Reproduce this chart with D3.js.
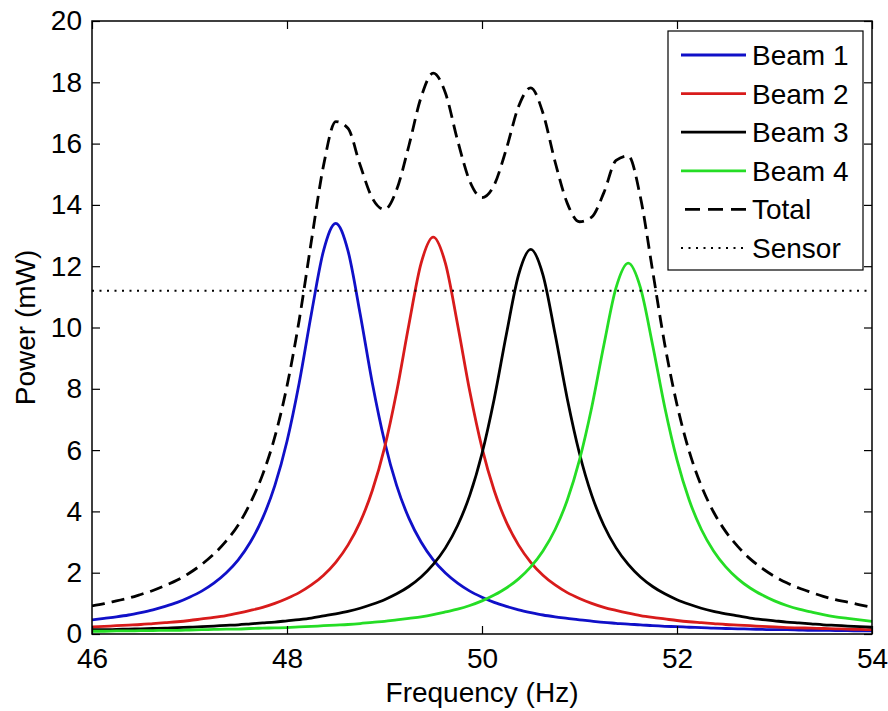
<!DOCTYPE html>
<html>
<head>
<meta charset="utf-8">
<script src="https://cdn.jsdelivr.net/npm/d3@7"></script>
<style>
    body { margin: 0; background: #fff; }
    text { font-family: "Liberation Sans", Arial, sans-serif; fill: #000; }
</style>
</head>
<body>
<div id="main"></div>
<script>
/// data ///
const freq = [46, 46.125, 46.25, 46.375, 46.5, 46.625, 46.75, 46.875,
    47, 47.125, 47.25, 47.375, 47.5, 47.625, 47.75, 47.875,
    48, 48.125, 48.25, 48.375, 48.5, 48.625, 48.75, 48.875,
    49, 49.125, 49.25, 49.375, 49.5, 49.625, 49.75, 49.875,
    50, 50.125, 50.25, 50.375, 50.5, 50.625, 50.75, 50.875,
    51, 51.125, 51.25, 51.375, 51.5, 51.625, 51.75, 51.875,
    52, 52.125, 52.25, 52.375, 52.5, 52.625, 52.75, 52.875,
    53, 53.125, 53.25, 53.375, 53.5, 53.625, 53.75, 53.875, 54];

const beam1 = [0.46, 0.51, 0.56, 0.62, 0.70, 0.79, 0.90, 1.03, 1.20, 1.40, 1.66, 1.99, 2.42, 3.00, 3.78, 4.84,
    6.29, 8.19, 10.45, 12.51, 13.40, 12.51, 10.45, 8.19, 6.29, 4.84, 3.78, 3.00, 2.42, 1.99, 1.66, 1.40,
    1.20, 1.03, 0.90, 0.79, 0.70, 0.62, 0.56, 0.51, 0.46, 0.42, 0.38, 0.35, 0.32, 0.30, 0.27, 0.25,
    0.24, 0.22, 0.21, 0.19, 0.18, 0.17, 0.16, 0.15, 0.14, 0.14, 0.13, 0.12, 0.12, 0.11, 0.11, 0.10, 0.10];

const beam2 = [0.23, 0.25, 0.27, 0.29, 0.31, 0.34, 0.37, 0.40, 0.44, 0.49, 0.54, 0.60, 0.68, 0.77, 0.87, 1.00,
    1.16, 1.35, 1.60, 1.92, 2.34, 2.90, 3.65, 4.68, 6.07, 7.91, 10.09, 12.09, 12.95, 12.09, 10.09, 7.91,
    6.07, 4.68, 3.65, 2.90, 2.34, 1.92, 1.60, 1.35, 1.16, 1.00, 0.87, 0.77, 0.68, 0.60, 0.54, 0.49,
    0.44, 0.40, 0.37, 0.34, 0.31, 0.29, 0.27, 0.25, 0.23, 0.21, 0.20, 0.19, 0.18, 0.17, 0.16, 0.15, 0.14];

const beam3 = [0.14, 0.14, 0.15, 0.16, 0.17, 0.18, 0.19, 0.21, 0.22, 0.24, 0.26, 0.28, 0.30, 0.33, 0.36, 0.39,
    0.43, 0.47, 0.52, 0.59, 0.66, 0.74, 0.84, 0.97, 1.12, 1.31, 1.55, 1.86, 2.27, 2.81, 3.54, 4.53,
    5.89, 7.67, 9.78, 11.72, 12.55, 11.72, 9.78, 7.67, 5.89, 4.53, 3.54, 2.81, 2.27, 1.86, 1.55, 1.31,
    1.12, 0.97, 0.84, 0.74, 0.66, 0.59, 0.52, 0.47, 0.43, 0.39, 0.36, 0.33, 0.30, 0.28, 0.26, 0.24, 0.22];

const beam4 = [0.09, 0.09, 0.10, 0.10, 0.11, 0.11, 0.12, 0.12, 0.13, 0.14, 0.15, 0.16, 0.16, 0.18, 0.19, 0.20,
    0.21, 0.23, 0.25, 0.27, 0.29, 0.31, 0.34, 0.38, 0.41, 0.46, 0.51, 0.56, 0.63, 0.72, 0.81, 0.93,
    1.08, 1.27, 1.50, 1.80, 2.19, 2.71, 3.41, 4.37, 5.68, 7.39, 9.43, 11.30, 12.10, 11.30, 9.43, 7.39,
    5.68, 4.37, 3.41, 2.71, 2.19, 1.80, 1.50, 1.27, 1.08, 0.93, 0.81, 0.72, 0.63, 0.56, 0.51, 0.46, 0.41];

const total = [0.92, 0.99, 1.08, 1.17, 1.29, 1.42, 1.58, 1.76, 1.99, 2.27, 2.61, 3.03, 3.56, 4.28, 5.20, 6.43,
    8.09, 10.24, 12.82, 15.29, 16.72, 16.50, 15.30, 14.22, 13.85, 14.50, 15.93, 17.51, 18.30, 17.65, 16.10, 14.77,
    14.24, 14.65, 15.83, 17.21, 17.82, 17.00, 15.40, 14.05, 13.45, 13.60, 14.40, 15.45, 15.60, 14.25, 11.85, 9.44,
    7.48, 5.96, 4.83, 3.98, 3.34, 2.85, 2.45, 2.14, 1.88, 1.67, 1.50, 1.36, 1.23, 1.12, 1.04, 0.95, 0.87];

const sensorLevel = 11.2;

const xTicks = [46, 48, 50, 52, 54];
const yTicks = [0, 2, 4, 6, 8, 10, 12, 14, 16, 18, 20];

const seriesNames = ['Beam 1', 'Beam 2', 'Beam 3', 'Beam 4', 'Total', 'Sensor'];

/// plot ///
const w = 888;
const h = 711;
const padL = 92, padR = 872, padT = 21, padB = 634;
const fontSize = 28;

let svg = d3.select('#main')
        .append('svg')
        .attr('width', w)
        .attr('height', h)
        .style('display', 'block');

svg.append('rect')
    .attr('width', w)
    .attr('height', h)
    .attr('fill', '#fff');

let xScale = d3.scaleLinear()
        .domain([46, 54])
        .range([padL, padR]);

let yScale = d3.scaleLinear()
        .domain([0, 20])
        .range([padB, padT]);

// clip curves to the axes box
svg.append('clipPath')
    .attr('id', 'clip')
    .append('rect')
    .attr('x', padL)
    .attr('y', padT)
    .attr('width', padR - padL)
    .attr('height', padB - padT);

// line styles, same order as the legend
const styles = [
    { color: '#1010c8', width: 2.8, dash: null },
    { color: '#d81b1b', width: 2.8, dash: null },
    { color: '#000000', width: 2.8, dash: null },
    { color: '#25dd25', width: 2.8, dash: null },
    { color: '#000000', width: 2.8, dash: '13,7' },
    { color: '#000000', width: 2.0, dash: '2,5.5' }
];

let line = d3.line()
        .x((d, i) => xScale(freq[i]))
        .y(d => yScale(d))
        .curve(d3.curveMonotoneX);

let plot = svg.append('g')
        .attr('clip-path', 'url(#clip)');

[beam1, beam2, beam3, beam4, total].forEach((vals, k) => {
    plot.append('path')
        .attr('d', line(vals))
        .attr('fill', 'none')
        .attr('stroke', styles[k].color)
        .attr('stroke-width', styles[k].width)
        .attr('stroke-dasharray', styles[k].dash)
        .attr('stroke-linejoin', 'round');
});

// sensor threshold
plot.append('line')
    .attr('x1', xScale(46))
    .attr('x2', xScale(54))
    .attr('y1', yScale(sensorLevel))
    .attr('y2', yScale(sensorLevel))
    .attr('stroke', styles[5].color)
    .attr('stroke-width', styles[5].width)
    .attr('stroke-dasharray', styles[5].dash);

/// axes (matlab style: ticks inside, mirrored on top and right) ///
const tickLen = 8;

svg.append('g')
    .attr('transform', 'translate(0,' + padB + ')')
    .call(d3.axisBottom(xScale).tickValues(xTicks).tickSize(-tickLen).tickPadding(14).tickFormat(d3.format('d')))
    .call(g => g.select('.domain').remove());

svg.append('g')
    .attr('transform', 'translate(0,' + padT + ')')
    .call(d3.axisTop(xScale).tickValues(xTicks).tickSize(-tickLen).tickFormat(''))
    .call(g => g.select('.domain').remove());

svg.append('g')
    .attr('transform', 'translate(' + padL + ',0)')
    .call(d3.axisLeft(yScale).tickValues(yTicks).tickSize(-tickLen).tickPadding(10).tickFormat(d3.format('d')))
    .call(g => g.select('.domain').remove());

svg.append('g')
    .attr('transform', 'translate(' + padR + ',0)')
    .call(d3.axisRight(yScale).tickValues(yTicks).tickSize(-tickLen).tickFormat(''))
    .call(g => g.select('.domain').remove());

svg.selectAll('.tick line')
    .attr('stroke', '#000')
    .attr('stroke-width', 1.2);

svg.selectAll('.tick text')
    .style('font-size', fontSize + 'px')
    .style('font-family', '"Liberation Sans", Arial, sans-serif')
    .attr('fill', '#000');

// axes box
svg.append('rect')
    .attr('x', padL)
    .attr('y', padT)
    .attr('width', padR - padL)
    .attr('height', padB - padT)
    .attr('fill', 'none')
    .attr('stroke', '#000')
    .attr('stroke-width', 1.5);

// axis labels
svg.append('text')
    .attr('x', (padL + padR) / 2)
    .attr('y', 702)
    .attr('text-anchor', 'middle')
    .style('font-size', fontSize + 'px')
    .text('Frequency (Hz)');

svg.append('text')
    .attr('transform', 'translate(35,' + (padT + padB) / 2 + ') rotate(-90)')
    .attr('text-anchor', 'middle')
    .style('font-size', fontSize + 'px')
    .text('Power (mW)');

/// legend ///
const lgX = 668, lgY = 31, lgW = 195, lgH = 239;
const rowH = 38.6;

let legend = svg.append('g');

legend.append('rect')
    .attr('x', lgX)
    .attr('y', lgY)
    .attr('width', lgW)
    .attr('height', lgH)
    .attr('fill', '#fff')
    .attr('stroke', '#000')
    .attr('stroke-width', 1.2);

seriesNames.forEach((name, k) => {
    let cy = lgY + 24 + k * rowH;
    let x0 = name === 'Total' ? lgX + 17 : lgX + 13;   // dashed sample starts a bit further in

    legend.append('line')
        .attr('x1', x0)
        .attr('x2', lgX + 78)
        .attr('y1', cy)
        .attr('y2', cy)
        .attr('stroke', styles[k].color)
        .attr('stroke-width', styles[k].width)
        .attr('stroke-dasharray', name === 'Total' ? '15,8' : styles[k].dash);

    legend.append('text')
        .attr('x', lgX + 84)
        .attr('y', cy)
        .attr('dy', '0.36em')
        .style('font-size', fontSize + 'px')
        .text(name);
});
</script>
</body>
</html>
